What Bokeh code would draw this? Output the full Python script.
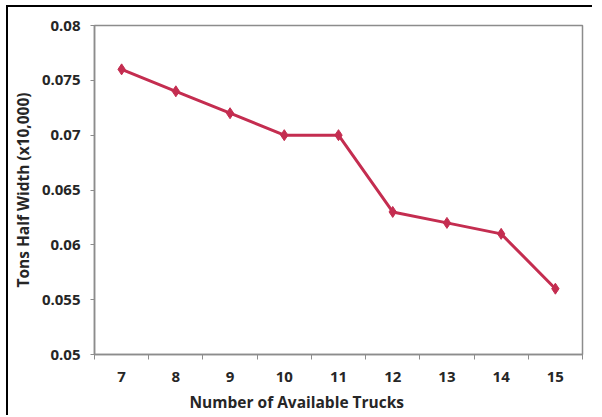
from bokeh.plotting import figure
from bokeh.models import FixedTicker, Title
from bokeh.embed import file_html
from bokeh.resources import INLINE

trucks = [7, 8, 9, 10, 11, 12, 13, 14, 15]
half_width = [0.076, 0.074, 0.072, 0.070, 0.070, 0.063, 0.062, 0.061, 0.056]
x_tick_labels = ["7", "8", "9", "10", "11", "12", "13", "14", "15"]
y_ticks = [0.05, 0.055, 0.06, 0.065, 0.07, 0.075, 0.08]
y_tick_labels = ["0.05", "0.055", "0.06", "0.065", "0.07", "0.075", "0.08"]
x_title = "Number of Available Trucks"
y_title = "Tons Half Width (x10,000)"

FONT = "Open Sans"
TXT = "#262626"
AX = "#8c8c8c"
RED = "#C42D50"

p = figure(width=586, height=410, output_backend="svg", toolbar_location=None,
           x_range=(6.5, 15.5), y_range=(0.05, 0.08),
           min_border_left=82, min_border_right=12, min_border_top=18, min_border_bottom=63)
p.styles = {"border-top": "2px solid #000", "border-left": "2px solid #000",
            "margin-left": "6px", "margin-top": "5px"}

p.xgrid.visible = False
p.ygrid.visible = False
p.outline_line_color = AX
p.outline_line_width = 1.5
p.background_fill_color = "white"
p.border_fill_color = "white"

xt = FixedTicker(ticks=trucks, minor_ticks=[t - 0.5 for t in trucks] + [trucks[-1] + 0.5])
p.xaxis.ticker = xt
p.xaxis.major_label_overrides = {t: l for t, l in zip(trucks, x_tick_labels)}
p.xaxis.major_tick_line_color = None
p.xaxis.minor_tick_line_color = AX
p.xaxis.minor_tick_out = 5
p.xaxis.minor_tick_in = 0
p.xaxis.axis_line_color = AX
p.xaxis.axis_line_width = 1.5
p.xaxis.major_label_text_font = FONT
p.xaxis.major_label_text_font_style = "bold"
p.xaxis.major_label_text_font_size = "15px"
p.xaxis.major_label_text_color = TXT
p.xaxis.major_label_standoff = 11

p.yaxis.ticker = FixedTicker(ticks=y_ticks, minor_ticks=[])
p.yaxis.major_label_overrides = {t: l for t, l in zip(y_ticks, y_tick_labels)}
p.yaxis.major_tick_line_color = AX
p.yaxis.major_tick_out = 4
p.yaxis.major_tick_in = 0
p.yaxis.axis_line_color = AX
p.yaxis.axis_line_width = 1.5
p.yaxis.major_label_text_font = FONT
p.yaxis.major_label_text_font_style = "bold"
p.yaxis.major_label_text_font_size = "15px"
p.yaxis.major_label_text_color = TXT
p.yaxis.major_label_standoff = 10
p.yaxis.axis_label = y_title
p.yaxis.axis_label_text_font = FONT
p.yaxis.axis_label_text_font_style = "bold"
p.yaxis.axis_label_text_font_size = "15.5px"
p.yaxis.axis_label_text_color = TXT
p.yaxis.axis_label_standoff = 5

t = Title(text=x_title, align="left", offset=95, text_font=FONT,
          text_font_style="bold", text_font_size="15.5px", text_color=TXT, standoff=9)
p.add_layout(t, "below")

p.line(trucks, half_width, line_color=RED, line_width=3)
p.scatter(trucks, half_width, marker="diamond", size=11, fill_color=RED, line_color=RED)

open("out.html", "w").write(file_html(p, INLINE))
